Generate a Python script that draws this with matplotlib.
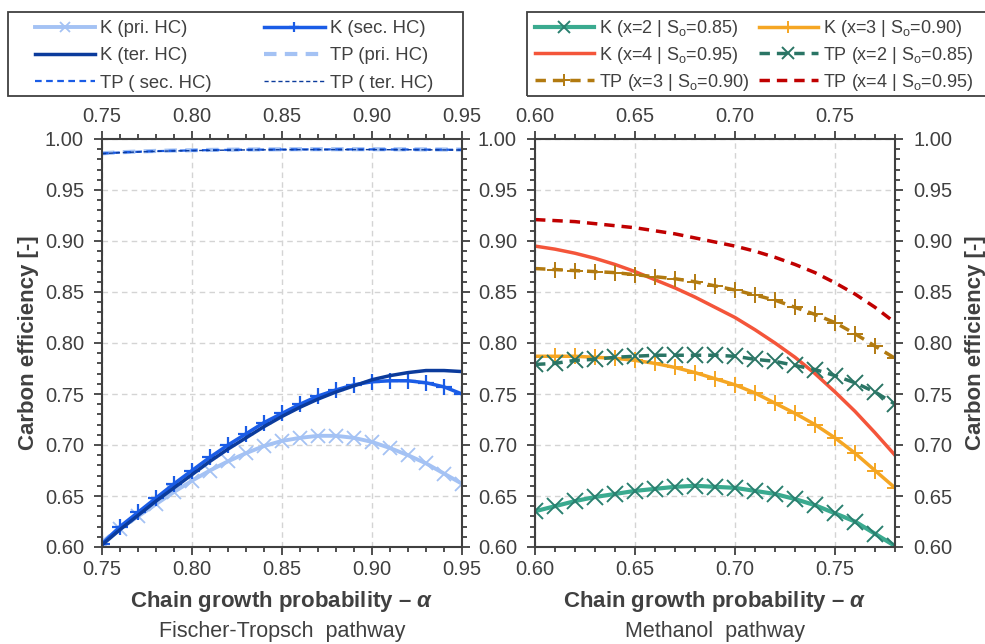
import numpy as np
import matplotlib
matplotlib.use("Agg")
import matplotlib.pyplot as plt
from matplotlib.patches import Rectangle
from matplotlib.ticker import MultipleLocator, FormatStrFormatter

plt.rcParams['font.family'] = ['Liberation Sans', 'DejaVu Sans']
plt.rcParams['mathtext.fontset'] = 'custom'
plt.rcParams['mathtext.bfit'] = 'Liberation Sans:bold:italic'
plt.rcParams['mathtext.rm'] = 'Liberation Sans'
grey = '#404040'

# Fischer-Tropsch pathway
alpha_ft = [0.75, 0.76, 0.77, 0.78, 0.79, 0.80, 0.81, 0.82, 0.83, 0.84, 0.85,
            0.86, 0.87, 0.88, 0.89, 0.90, 0.91, 0.92, 0.93, 0.94, 0.95]
k_pri = [0.605, 0.618, 0.630, 0.642, 0.654, 0.665, 0.675, 0.684, 0.692, 0.699, 0.704,
         0.707, 0.709, 0.709, 0.707, 0.703, 0.697, 0.690, 0.682, 0.672, 0.662]
k_sec = [0.603, 0.620, 0.634, 0.648, 0.662, 0.675, 0.688, 0.700, 0.711, 0.722, 0.731,
         0.740, 0.748, 0.754, 0.759, 0.762, 0.763, 0.763, 0.761, 0.757, 0.750]
k_ter = [0.602, 0.617, 0.631, 0.645, 0.658, 0.671, 0.684, 0.696, 0.707, 0.718, 0.728,
         0.737, 0.745, 0.752, 0.758, 0.764, 0.768, 0.771, 0.773, 0.773, 0.772]
tp_pri = [0.9860, 0.9870, 0.9877, 0.9883, 0.9887, 0.9890, 0.9893, 0.9895, 0.9897, 0.9898, 0.9899,
          0.9900, 0.9900, 0.9900, 0.9900, 0.9900, 0.9899, 0.9899, 0.9898, 0.9897, 0.9896]
tp_sec = [0.9858, 0.9868, 0.9875, 0.9881, 0.9885, 0.9888, 0.9891, 0.9893, 0.9895, 0.9896, 0.9897,
          0.9898, 0.9898, 0.9898, 0.9898, 0.9898, 0.9897, 0.9897, 0.9896, 0.9895, 0.9894]
tp_ter = [0.9856, 0.9866, 0.9873, 0.9879, 0.9883, 0.9886, 0.9889, 0.9891, 0.9893, 0.9894, 0.9895,
          0.9896, 0.9896, 0.9896, 0.9896, 0.9896, 0.9895, 0.9895, 0.9894, 0.9893, 0.9892]

# Methanol pathway
alpha_me = [0.60, 0.61, 0.62, 0.63, 0.64, 0.65, 0.66, 0.67, 0.68, 0.69,
            0.70, 0.71, 0.72, 0.73, 0.74, 0.75, 0.76, 0.77, 0.78]
k_x2 = [0.635, 0.640, 0.645, 0.649, 0.652, 0.655, 0.657, 0.659, 0.660, 0.659,
        0.658, 0.655, 0.652, 0.647, 0.641, 0.633, 0.625, 0.613, 0.601]
k_x3 = [0.787, 0.787, 0.787, 0.786, 0.785, 0.783, 0.780, 0.776, 0.771, 0.765,
        0.759, 0.751, 0.741, 0.731, 0.720, 0.707, 0.692, 0.675, 0.658]
k_x4 = [0.895, 0.892, 0.888, 0.883, 0.877, 0.870, 0.862, 0.854, 0.845, 0.835,
        0.825, 0.813, 0.800, 0.786, 0.770, 0.752, 0.733, 0.712, 0.690]
tp_x2 = [0.779, 0.780, 0.783, 0.784, 0.786, 0.787, 0.788, 0.788, 0.788, 0.788,
         0.787, 0.784, 0.782, 0.778, 0.774, 0.768, 0.761, 0.752, 0.740]
tp_x3 = [0.873, 0.872, 0.871, 0.870, 0.869, 0.867, 0.865, 0.863, 0.860, 0.856,
         0.852, 0.847, 0.842, 0.835, 0.828, 0.820, 0.809, 0.797, 0.785]
tp_x4 = [0.921, 0.920, 0.919, 0.917, 0.915, 0.913, 0.910, 0.907, 0.903, 0.899,
         0.895, 0.890, 0.884, 0.877, 0.869, 0.859, 0.848, 0.835, 0.820]

W, H = 985, 644
fig = plt.figure(figsize=(W / 100, H / 100), dpi=100)
ax1 = fig.add_axes([102 / W, 1 - 547 / H, 360 / W, 408 / H])
ax2 = fig.add_axes([535 / W, 1 - 547 / H, 360 / W, 408 / H])

# left panel
ax1.plot(alpha_ft, k_pri, color='#a4c2f4', lw=2.8, marker='x', ms=10, mew=1.3, label='K (pri. HC)')
ax1.plot(alpha_ft, k_sec, color='#1a5ce6', lw=2.5, marker='+', ms=11, mew=1.6, label='K (sec. HC)')
ax1.plot(alpha_ft, k_ter, color='#0b3b9c', lw=2.5, label='K (ter. HC)')
ax1.plot(alpha_ft, tp_pri, color='#a4c2f4', lw=3, ls=(0, (3, 2)), label='TP (pri. HC)')
ax1.plot(alpha_ft, tp_sec, color='#1a5ce6', lw=1.6, ls=(0, (3, 2)), label='TP ( sec. HC)')
ax1.plot(alpha_ft, tp_ter, color='#0b3b9c', lw=1.0, ls=(0, (3, 2)), label='TP ( ter. HC)')
ax1.set_xlim(0.75, 0.95)

# right panel
so = 'S$_\\mathrm{o}$'
ax2.plot(alpha_me, k_x2, color='#3aaa8f', lw=3, marker='x', ms=12, mew=1.4, mec='#2a8070',
         label=f'K (x=2 | {so}=0.85)')
ax2.plot(alpha_me, k_x3, color='#f5a623', lw=2.5, marker='+', ms=12, mew=1.4,
         label=f'K (x=3 | {so}=0.90)')
ax2.plot(alpha_me, k_x4, color='#f4553a', lw=2.5,
         label=f'K (x=4 | {so}=0.95)')
ax2.plot(alpha_me, tp_x2, color='#2a7565', lw=2.5, ls=(0, (3, 2)), marker='x', ms=12, mew=1.4,
         label=f'TP (x=2 | {so}=0.85)')
ax2.plot(alpha_me, tp_x3, color='#b27a10', lw=2.5, ls=(0, (3, 2)), marker='+', ms=12, mew=1.4,
         label=f'TP (x=3 | {so}=0.90)')
ax2.plot(alpha_me, tp_x4, color='#c00000', lw=2.5, ls=(0, (3, 2)),
         label=f'TP (x=4 | {so}=0.95)')
ax2.set_xlim(0.60, 0.78)

for ax in (ax1, ax2):
    ax.set_ylim(0.60, 1.00)
    ax.xaxis.set_major_locator(MultipleLocator(0.05))
    ax.xaxis.set_minor_locator(MultipleLocator(0.01))
    ax.yaxis.set_major_locator(MultipleLocator(0.05))
    ax.yaxis.set_minor_locator(MultipleLocator(0.01))
    ax.xaxis.set_major_formatter(FormatStrFormatter('%.2f'))
    ax.yaxis.set_major_formatter(FormatStrFormatter('%.2f'))
    ax.grid(True, which='major', color='#d4d4d4', ls=(0, (4, 3)), lw=1)
    for s in ax.spines.values():
        s.set_color(grey)
        s.set_linewidth(1.5)
    ax.tick_params(which='both', direction='out', color=grey, labelcolor=grey,
                   top=True, bottom=True, left=True, right=True, labeltop=True,
                   labelsize=14.5, width=1.3)
    ax.tick_params(which='major', length=6)
    ax.tick_params(which='minor', length=3.5)
    ax.tick_params(axis='y', which='major', pad=7)
    ax.set_xlabel('Chain growth probability – $\\mathbfit{\\alpha}$', fontsize=16,
                  fontweight='bold', color=grey, labelpad=7)

ax1.tick_params(labelleft=True, labelright=False)
ax2.tick_params(labelleft=True, labelright=True)
ax1.set_ylabel('Carbon efficiency [-]', fontsize=16, fontweight='bold', color=grey, labelpad=4)
ax2.set_ylabel('Carbon efficiency [-]', fontsize=16, fontweight='bold', color=grey, labelpad=9)
ax2.yaxis.set_label_position('right')

ax1.text(0.5, -0.208, 'Fischer-Tropsch  pathway', transform=ax1.transAxes,
         ha='center', va='center', fontsize=15.5, color=grey)
ax2.text(0.5, -0.208, 'Methanol  pathway', transform=ax2.transAxes,
         ha='center', va='center', fontsize=15.5, color=grey)

# legends: entries filled row by row, frames drawn as plain rectangles
order = [0, 2, 4, 1, 3, 5]
leg_kw = dict(loc='upper left', ncol=2, handlelength=3.25,
              borderaxespad=0, frameon=False, borderpad=0,
              handletextpad=0.28, markerscale=0.7)
specs = [(ax1, 35, 2.85, 13.3, 0.56, 20, (8, 463)),
         (ax2, 535, 0.55, 13.0, 0.32, 18, (527, 992))]
for ax, x0, colsp, fs, lsp, top, (fx0, fx1) in specs:
    h, l = ax.get_legend_handles_labels()
    leg = fig.legend([h[i] for i in order], [l[i] for i in order], fontsize=fs,
                     labelspacing=lsp, bbox_to_anchor=(x0 / W, 1 - top / H),
                     columnspacing=colsp, **leg_kw)
    for t in leg.get_texts():
        t.set_color(grey)
    fig.patches.append(Rectangle((fx0 / W, 1 - 96 / H), (fx1 - fx0) / W, 84 / H,
                                 transform=fig.transFigure, fill=False,
                                 edgecolor=grey, lw=1.3, clip_on=False))

fig.savefig('out.png', dpi=100)
